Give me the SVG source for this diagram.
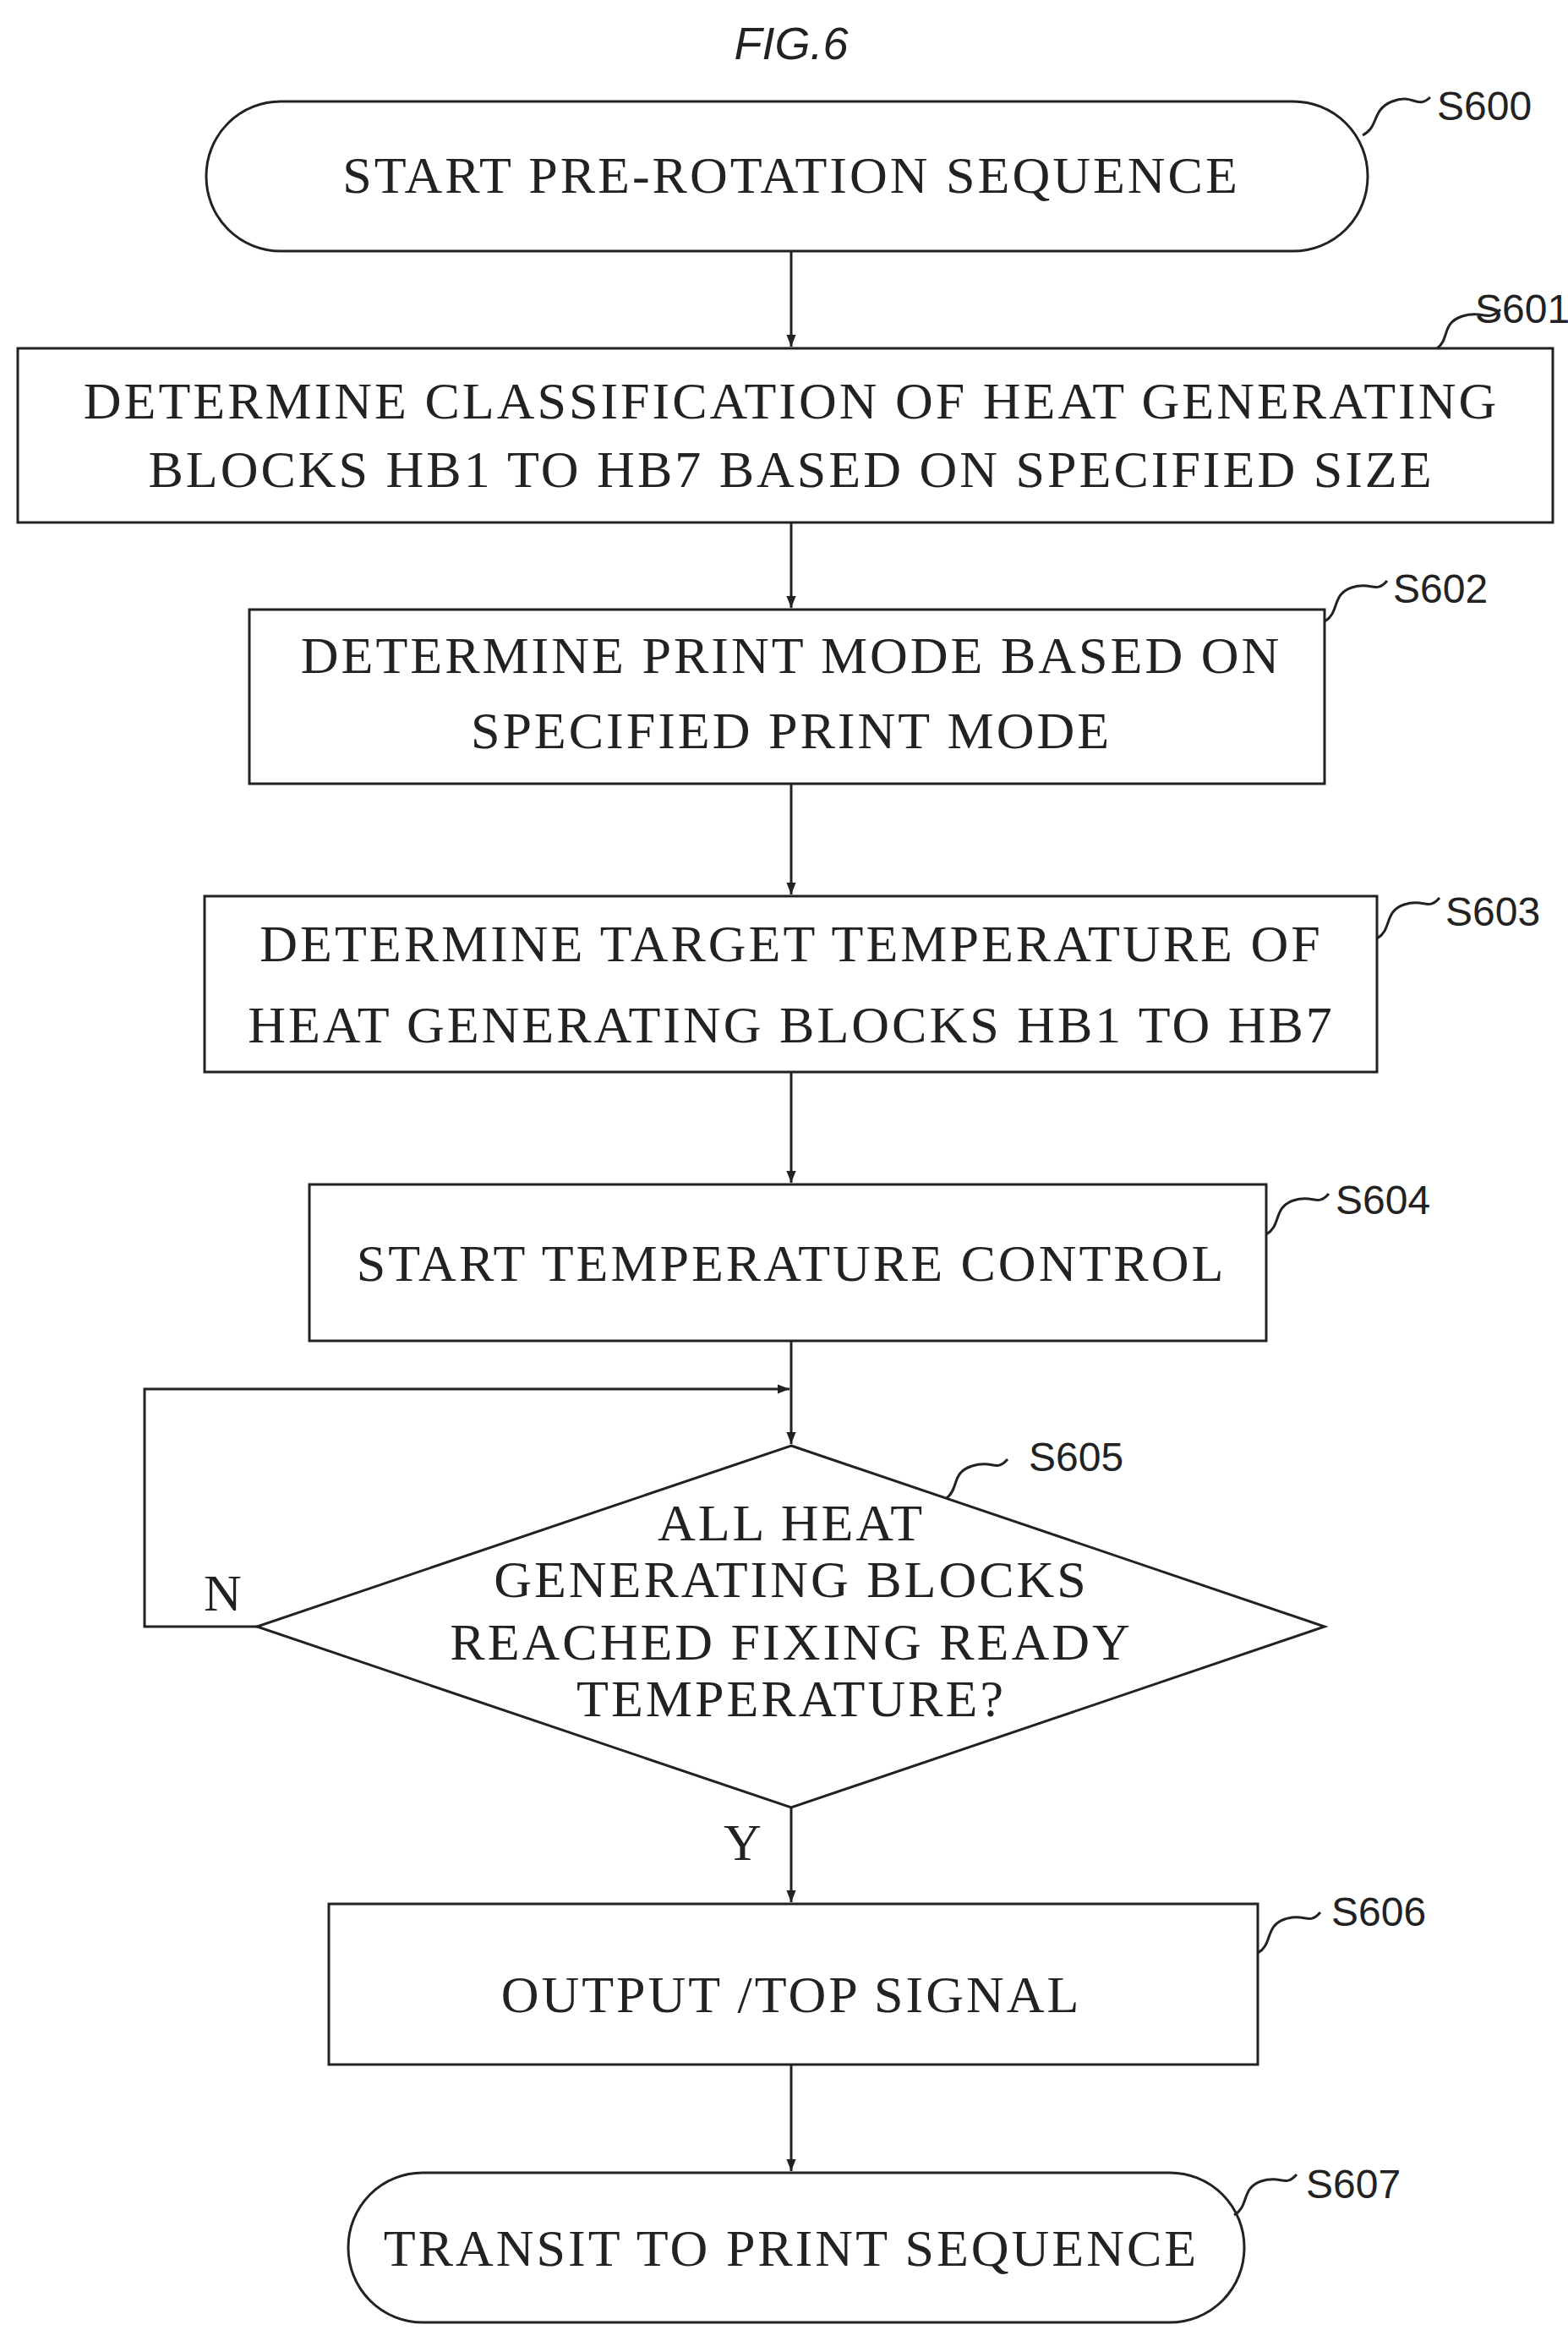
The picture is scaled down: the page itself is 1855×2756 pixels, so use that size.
<svg xmlns="http://www.w3.org/2000/svg" width="1855" height="2756" viewBox="0 0 1855 2756">
<style>
.b{fill:#fff;stroke:#222;stroke-width:3}
.t{font-family:"Liberation Serif",serif;font-size:62px;letter-spacing:3px;text-anchor:middle;fill:#222}
.l{font-family:"Liberation Sans",sans-serif;font-size:48px;fill:#222}
.c{fill:none;stroke:#222;stroke-width:3}
</style>
<defs><marker id="a" viewBox="0 0 10 10" refX="10" refY="5" markerWidth="14" markerHeight="14" orient="auto" markerUnits="userSpaceOnUse"><path d="M0,1L10,5L0,9z" fill="#222"/></marker></defs>
<rect width="1855" height="2756" fill="#fff"/>
<text x="936" y="70" class="t" font-style="italic" style="font-family:'Liberation Sans',sans-serif;font-size:54px;letter-spacing:0">FIG.6</text>
<g id="connectors">
<path class="c" d="M936 297V410" marker-end="url(#a)"/>
<path class="c" d="M936 618V719" marker-end="url(#a)"/>
<path class="c" d="M936 927V1058" marker-end="url(#a)"/>
<path class="c" d="M936 1268V1399" marker-end="url(#a)"/>
<path class="c" d="M936 1586V1708" marker-end="url(#a)"/>
<path class="c" d="M304 1924H171V1643H934" marker-end="url(#a)"/>
<path class="c" d="M936 2138V2250" marker-end="url(#a)"/>
<path class="c" d="M936 2442V2568" marker-end="url(#a)"/>
<text x="265" y="1905" class="t">N</text>
<text x="880" y="2200" class="t">Y</text>
</g>
<g id="S600"><rect class="b" x="244" y="120" width="1374" height="177" rx="88"/><text x="936" y="228" class="t">START PRE-ROTATION SEQUENCE</text>
<path class="c" d="M1612 160c20-10 10-30 35-40s30 10 45-5"/><text x="1700" y="142" class="l">S600</text></g>
<g id="S601"><rect class="b" x="21" y="412" width="1816" height="206"/><text x="936" y="495" class="t">DETERMINE CLASSIFICATION OF HEAT GENERATING</text><text x="936" y="576" class="t">BLOCKS HB1 TO HB7 BASED ON SPECIFIED SIZE</text>
<path class="c" d="M1700 412c15-10 5-30 30-38s30 8 45-8"/><text x="1745" y="382" class="l">S601</text></g>
<g id="S602"><rect class="b" x="295" y="721" width="1272" height="206"/><text x="936" y="796" class="t">DETERMINE PRINT MODE BASED ON</text><text x="936" y="885" class="t">SPECIFIED PRINT MODE</text>
<path class="c" d="M1567 735c18-10 8-32 32-40s28 8 42-8"/><text x="1648" y="713" class="l">S602</text></g>
<g id="S603"><rect class="b" x="242" y="1060" width="1387" height="208"/><text x="936" y="1137" class="t">DETERMINE TARGET TEMPERATURE OF</text><text x="936" y="1233" class="t">HEAT GENERATING BLOCKS HB1 TO HB7</text>
<path class="c" d="M1629 1110c18-10 8-32 32-40s28 8 42-8"/><text x="1710" y="1095" class="l">S603</text></g>
<g id="S604"><rect class="b" x="366" y="1401" width="1132" height="185"/><text x="936" y="1515" class="t">START TEMPERATURE CONTROL</text>
<path class="c" d="M1498 1460c18-10 8-32 32-40s28 8 42-8"/><text x="1580" y="1436" class="l">S604</text></g>
<g id="S605"><polygon class="b" points="936,1710 1567,1924 936,2138 304,1924"/><text x="936" y="1822" class="t">ALL HEAT</text><text x="936" y="1889" class="t">GENERATING BLOCKS</text><text x="936" y="1963" class="t">REACHED FIXING READY</text><text x="936" y="2030" class="t">TEMPERATURE?</text>
<path class="c" d="M1120 1772c15-12 5-30 30-38s28 8 42-8"/><text x="1217" y="1740" class="l">S605</text></g>
<g id="S606"><rect class="b" x="389" y="2252" width="1099" height="190"/><text x="936" y="2380" class="t">OUTPUT /TOP SIGNAL</text>
<path class="c" d="M1488 2310c18-10 8-32 32-40s28 8 42-8"/><text x="1575" y="2278" class="l">S606</text></g>
<g id="S607"><rect class="b" x="412" y="2570" width="1060" height="177" rx="88"/><text x="936" y="2680" class="t">TRANSIT TO PRINT SEQUENCE</text>
<path class="c" d="M1460 2620c18-10 8-32 32-40s28 8 42-8"/><text x="1545" y="2600" class="l">S607</text></g>
</svg>
